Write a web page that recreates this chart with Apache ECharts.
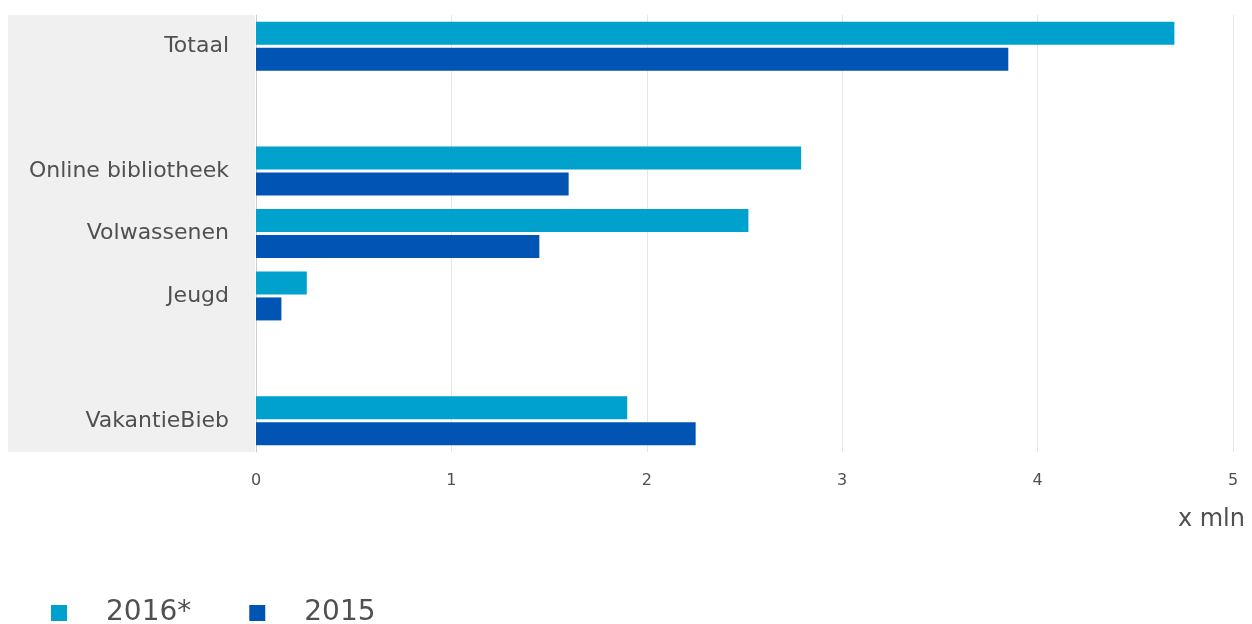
<!DOCTYPE html>
<html>
<head>
<meta charset="utf-8">
<script src="https://cdn.jsdelivr.net/npm/echarts@6/dist/echarts.min.js"></script>
<style>
html,body{margin:0;padding:0;background:#fff;}
#chart{width:1252px;height:624px;}
</style>
</head>
<body>
<div id="chart"></div>
<script>
var categories = ['Totaal', '', 'Online bibliotheek', 'Volwassenen', 'Jeugd', ' ', 'VakantieBieb'];
var values2016 = [4.70, null, 2.79, 2.52, 0.26, null, 1.90];
var values2015 = [3.85, null, 1.60, 1.45, 0.13, null, 2.25];
var xTicks = [0, 1, 2, 3, 4, 5];
var seriesNames = ['2016*', '2015'];
var unitLabel = 'x mln';

var chart = echarts.init(document.getElementById('chart'), null, {renderer: 'canvas'});
var font = '"DejaVu Sans", Verdana, sans-serif';
chart.setOption({
  animation: false,
  textStyle: {fontFamily: font},
  color: ['#00a1cd', '#0054b4'],
  title: {
    text: unitLabel,
    right: 2,
    top: 503,
    textStyle: {fontFamily: font, fontSize: 24, fontWeight: 'normal', color: '#505050'}
  },
  graphic: [{
    type: 'rect',
    z: -10,
    silent: true,
    shape: {x: 8, y: 15, width: 247, height: 437},
    style: {fill: '#f0f0f0'}
  }],
  legend: {
    left: 46,
    top: 594,
    icon: 'rect',
    itemWidth: 16,
    itemHeight: 16,
    itemGap: 58,
    textStyle: {fontFamily: font, fontSize: 28, color: '#505050', padding: [0, 0, 0, 34]},
    data: seriesNames
  },
  grid: {left: 256, right: 19, top: 15, bottom: 172, containLabel: false},
  xAxis: {
    type: 'value',
    min: xTicks[0],
    max: xTicks[xTicks.length - 1],
    interval: 1,
    axisLine: {show: false},
    axisTick: {show: false},
    axisLabel: {fontFamily: font, fontSize: 16, color: '#505050', margin: 21},
    splitLine: {lineStyle: {color: '#e6e6e6', width: 1}}
  },
  yAxis: {
    type: 'category',
    inverse: true,
    data: categories,
    axisLine: {lineStyle: {color: '#cccccc'}},
    axisTick: {alignWithLabel: true, length: 15, lineStyle: {color: '#cccccc'}},
    axisLabel: {fontFamily: font, fontSize: 22, color: '#505050', margin: 27}
  },
  series: [
    {name: seriesNames[0], type: 'bar', data: values2016, barWidth: 23, barGap: '13%'},
    {name: seriesNames[1], type: 'bar', data: values2015, barWidth: 23, barGap: '13%'}
  ]
});
</script>
</body>
</html>
